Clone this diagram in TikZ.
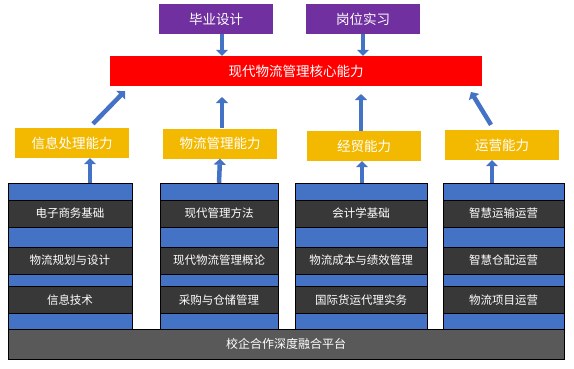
\documentclass[tikz,border=0pt]{standalone}
\usepackage{fontspec}
\setmainfont{Noto Sans CJK SC}
\usetikzlibrary{arrows.meta}
\definecolor{plumbox}{RGB}{112,48,160}
\definecolor{corered}{RGB}{255,0,0}
\definecolor{skillgold}{RGB}{242,185,0}
\definecolor{layerblue}{RGB}{68,114,196}
\definecolor{coursegray}{RGB}{56,56,56}
\definecolor{basegray}{RGB}{89,89,89}
\begin{document}
\begin{tikzpicture}[x=1pt,y=-1pt,
  box/.style={inner sep=0pt,minimum height=30pt,text=white,font=\fontsize{13.5}{16}\selectfont},
  layer/.style={draw=black,fill=layerblue,minimum height=146pt,inner sep=0pt},
  course/.style={draw=black,fill=coursegray,minimum height=27pt,inner sep=0pt,text=white,font=\fontsize{11.5}{14}\selectfont},
  uparrow/.style={line width=4.5pt,layerblue,-{Triangle[width=12pt,length=6pt]}}]
\useasboundingbox (0,0) rectangle (574,368);
% top row
\node[box,fill=plumbox,minimum width=114pt] (design) at (216,19) {毕业设计};
\node[box,fill=plumbox,minimum width=114pt] (intern) at (363,19) {岗位实习};
\node[box,fill=corered,minimum width=372pt] (core) at (296,71) {现代物流管理核心能力};
% abilities
\foreach \i/\x/\y/\t in {1/72/143/信息处理能力,2/220/143.5/物流管理能力,3/364/146/经贸能力,4/502/145/运营能力} {
  \node[box,fill=skillgold,minimum width=114pt] (ab\i) at (\x,\y) {\t};
}
% course columns
\foreach \i/\x/\w/\ca/\cb/\cc in {1/70/124/电子商务基础/物流规划与设计/信息技术,
  2/219/118/现代管理方法/现代物流管理概论/采购与仓储管理,
  3/361/132/会计学基础/物流成本与绩效管理/国际货运代理实务,
  4/503.5/121/智慧运输运营/智慧仓配运营/物流项目运营} {
  \node[layer,minimum width=\w pt] (col\i) at (\x,256) {};
  \node[course,minimum width=\w pt] (course\i-1) at (\x,213.5) {\ca};
  \node[course,minimum width=\w pt] (course\i-2) at (\x,260.5) {\cb};
  \node[course,minimum width=\w pt] (course\i-3) at (\x,300) {\cc};
}
\node[draw=black,fill=basegray,minimum width=556pt,minimum height=30pt,inner sep=0pt,text=white,font=\fontsize{12}{14}\selectfont] (base) at (286,344) {校企合作深度融合平台};
% arrows
\coordinate (tip1) at (125,91);
\coordinate (tip2) at (222,97);
\coordinate (tip3) at (361,94);
\coordinate (tip4) at (471,92);
\draw[uparrow] ([xshift=6pt]design.south) -- ([xshift=6pt]design.south |- core.north);
\draw[uparrow] (intern.south) -- (intern.south |- core.north);
\draw[uparrow] ([xshift=21pt,yshift=4pt]ab1.north) -- (tip1);
\draw[uparrow] ([xshift=2pt]ab2.north) -- (tip2);
\draw[uparrow] ([xshift=-3pt]ab3.north) -- (tip3);
\draw[uparrow] ([xshift=-11pt,yshift=5pt]ab4.north) -- (tip4);
\draw[uparrow] ([xshift=20pt]col1.north) -- ([xshift=18pt]ab1.south);
\draw[uparrow] (col2.north) -- (ab2.south);
\draw[uparrow] ([xshift=1pt]col3.north) -- ([xshift=-2pt]ab3.south);
\draw[uparrow] ([xshift=-11.5pt]col4.north) -- ([xshift=-10pt]ab4.south);
\end{tikzpicture}
\end{document}
